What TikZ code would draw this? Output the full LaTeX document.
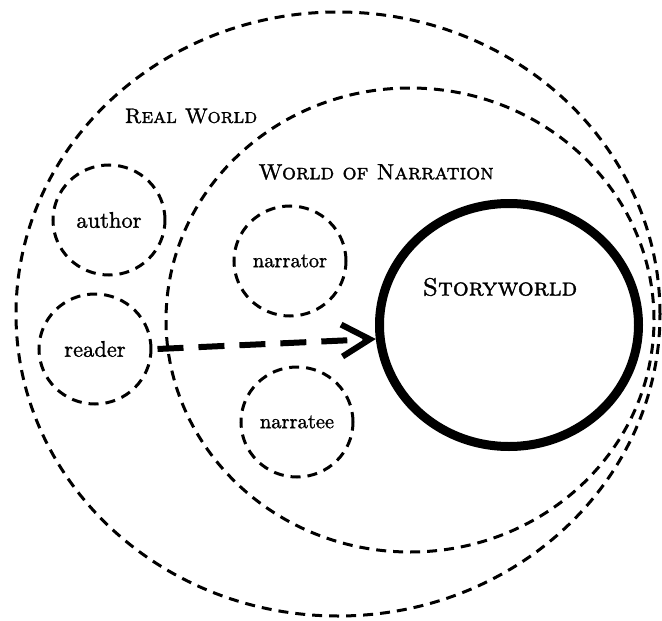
\documentclass[tikz,border=0pt]{standalone}
\usepackage{fontspec}
\newfontfamily\labelfont[FakeBold=1.3,SmallCapsFont=lmromancaps10-regular.otf]{lmroman10-regular.otf}
\usetikzlibrary{shapes.geometric,arrows.meta}
\tikzset{
  world/.style={draw, ellipse, line width=3pt, dash pattern=on 10pt off 7pt, inner sep=0pt},
  agent/.style={world, minimum width=112pt, minimum height=110pt, font=\labelfont\fontsize{22.5}{27}\selectfont},
  small agent/.style={agent, font=\labelfont\fontsize{20.5}{25}\selectfont},
  heading/.style={font=\labelfont\fontsize{21}{25}\selectfont\scshape, inner sep=0pt},
  storyring/.style={draw, ellipse, line width=9pt, inner sep=0pt},
  reads/.style={line width=6pt, dash pattern=on 26pt off 15pt, -{Straight Barb[length=28pt,width=32pt]}},
}
\begin{document}
\begin{tikzpicture}[x=1pt, y=-1pt]
  \fill[white] (0,0) rectangle (662,621);
  \useasboundingbox (0,0) rectangle (662,621);

  % nested worlds
  \node[world, minimum width=644pt, minimum height=604pt] (real) at (338,314) {};
  \node[world, minimum width=488pt, minimum height=464pt] (narration) at (410,320) {};
  \node[storyring, minimum width=259pt, minimum height=243pt] (story) at (509,325) {};

  % headings
  \node[heading] (reallabel) at (191,116) {Real World};
  \node[heading, font=\labelfont\fontsize{22}{26}\selectfont\scshape] (narrlabel) at (376,172) {World of Narration};
  \node[heading, font=\labelfont\fontsize{25}{29}\selectfont\scshape] (storylabel) at (500,287) {Storyworld};

  % agents
  \node[agent] (author) at (109,220) {author};
  \node[agent] (reader) at (95,349) {reader};
  \node[small agent] (narrator) at (290,261) {narrator};
  \node[small agent] (narratee) at (297,422) {narratee};

  % the reader's access to the storyworld
  \draw[reads] ([xshift=5pt]reader.east) -- (story.186);
\end{tikzpicture}
\end{document}
